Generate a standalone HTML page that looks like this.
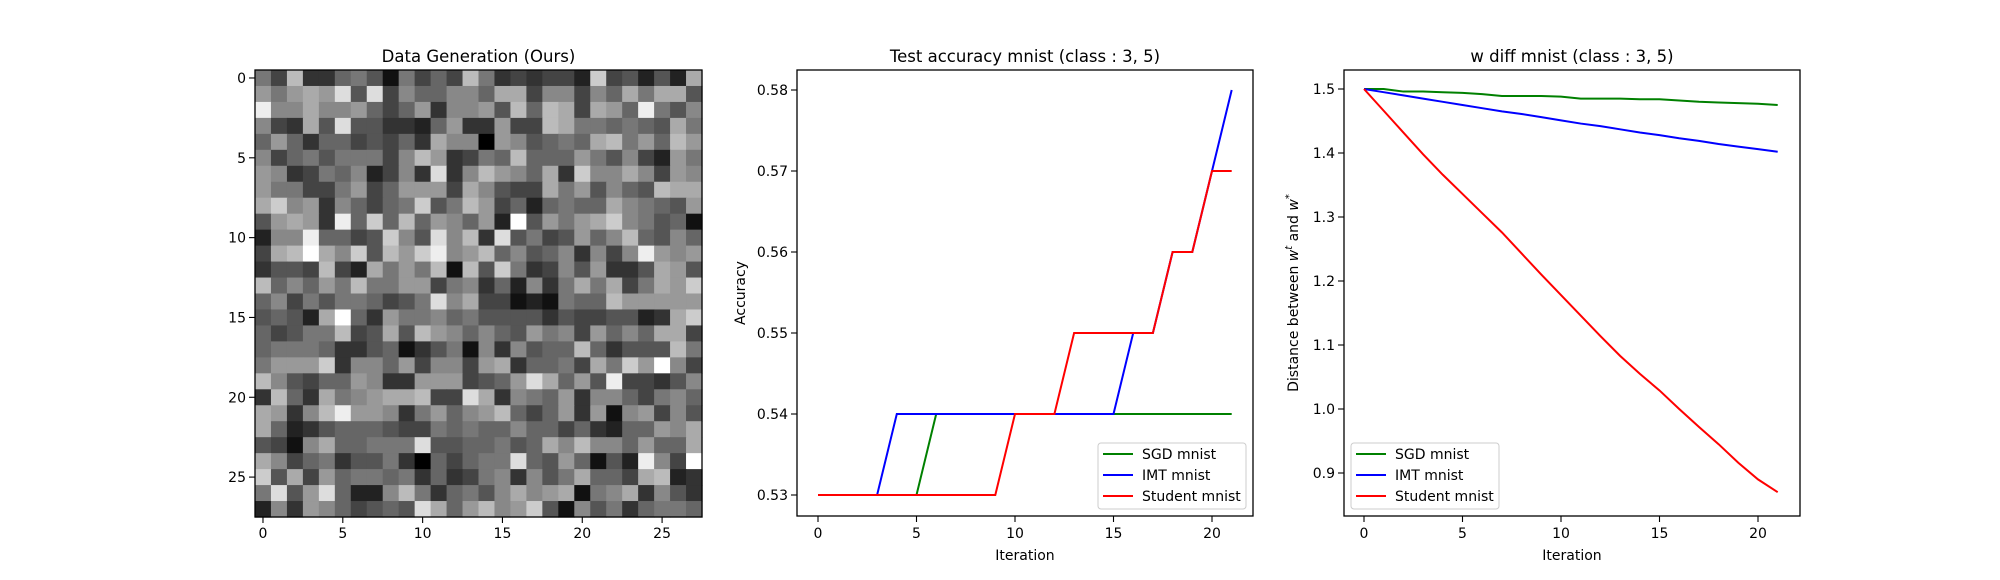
<!DOCTYPE html>
<html><head><meta charset="utf-8"><style>
html,body{margin:0;padding:0;background:#fff;}
svg{display:block;font-family:"DejaVu Sans","Liberation Sans",sans-serif;}
</style></head><body>
<svg id="fig" width="2000" height="580" viewBox="0 0 2000 580" xmlns="http://www.w3.org/2000/svg">
<g id="p1"></g>
<g id="p2"></g>
<g id="p3"></g>
</svg>
<script>
const heatRows = [
"74b3367517464b7343442c45252a6","979a9d5d486688 6aa4884 86a7aa5","e88a8896469388 95b6ba4a96e758","843a5d553326 933 944ba776765a7",
"6963 6645463a880985 676ab796b9","84675777 48b9347 6b666975842 97","983476824 83d38b986a3c88a849 8","9774479469994a854 4a7958 65baa",
"ac893864 67c57b94626766a87659","59a93e6c6b69869 2f597 9ac8756 1","2 88e66 45c85d8b3d574596 8b658 6","4abfa8c5b9ce89b68568384 8e989",
"3554b42a797b1b5c7348593 35a95","b6869 7b7799478 362837a7a47a9c","6847577645 7d8a441217 66b99999","5652af639778675555354455 23ac",
"6457 7b45a5b98686597849686aa4","67776 335613571838566b6355 5b75","799 9c3886948849a366 74a7c9f84","b854669833999456 9da695e4435 8",
"3b63a789aab44da387693886478 6","a938be998379689b6469391894 85","a6235666544767668664632669 8a","541 8a66777 d556675 6a8b886966a",
"a846735573064677d659615 2e84f","c5a496776736347838 57a664ab23","7d59d6228b736758a89a178a3853","2839864565da69b89c5185 736776"
];
const xTicks1 = [0,5,10,15,20,25];
const yTicks1 = [0,5,10,15,20,25];

const iters = [0,1,2,3,4,5,6,7,8,9,10,11,12,13,14,15,16,17,18,19,20,21];
const accSGD = [0.53,0.53,0.53,0.53,0.53,0.53,0.54,0.54,0.54,0.54,0.54,0.54,0.54,0.54,0.54,0.54,0.54,0.54,0.54,0.54,0.54,0.54];
const accIMT = [0.53,0.53,0.53,0.53,0.54,0.54,0.54,0.54,0.54,0.54,0.54,0.54,0.54,0.54,0.54,0.54,0.55,0.55,0.56,0.56,0.57,0.58];
const accStudent = [0.53,0.53,0.53,0.53,0.53,0.53,0.53,0.53,0.53,0.53,0.54,0.54,0.54,0.55,0.55,0.55,0.55,0.55,0.56,0.56,0.57,0.57];
const accYTicks = [0.53,0.54,0.55,0.56,0.57,0.58];
const xTicks = [0,5,10,15,20];

const wSGD = [1.5,1.5,1.496,1.496,1.495,1.494,1.492,1.489,1.489,1.489,1.488,1.485,1.485,1.485,1.484,1.484,1.482,1.480,1.479,1.478,1.477,1.475];
const wIMT = [1.5,1.495,1.490,1.485,1.480,1.475,1.470,1.465,1.461,1.456,1.451,1.446,1.442,1.437,1.432,1.428,1.423,1.419,1.414,1.410,1.406,1.402];
const wStudent = [1.5,1.466,1.432,1.398,1.366,1.336,1.306,1.276,1.243,1.21,1.178,1.146,1.114,1.083,1.055,1.029,1.0,0.972,0.945,0.916,0.89,0.87];
const wYTicks = [0.9,1.0,1.1,1.2,1.3,1.4,1.5];
const legendLabels = ["SGD mnist","IMT mnist","Student mnist"];
const seriesColors = ["#008000","#0000ff","#ff0000"];

const NS="http://www.w3.org/2000/svg";
function mk(parent,tag,attrs,text){const e=document.createElementNS(NS,tag);for(const k in attrs)e.setAttribute(k,attrs[k]);if(text!==undefined)e.textContent=text;parent.appendChild(e);return e;}

/* ---------- panel 1: heatmap ---------- */
const p1=document.getElementById('p1');
const hL=255,hT=70,hS=447,cs=hS/28;
const hx=v=>hL+(v+0.5)*cs, hy=v=>hT+(v+0.5)*cs;
heatRows.forEach((row,r)=>{
  const vals=row.replace(/ /g,'').padEnd(28,'8').slice(0,28);
  for(let c=0;c<28;c++){
    const g=parseInt(vals[c],16)*17;
    const cell=mk(p1,'rect',{x:hL+c*cs,y:hT+r*cs,width:cs+0.6,height:cs+0.6,fill:`rgb(${g},${g},${g})`});
    
    
  }
});
const f1=mk(p1,'rect',{x:hL,y:hT,width:hS,height:hS,fill:'none',stroke:'#000','stroke-width':1.3});


xTicks1.forEach(t=>{
  mk(p1,'line',{x1:hx(t),x2:hx(t),y1:hT+hS,y2:hT+hS+6,stroke:'#000','stroke-width':1.1});
  const l=mk(p1,'text',{x:hx(t),y:538,'font-size':14,'text-anchor':'middle'},String(t));
  
  
});
yTicks1.forEach(t=>{
  mk(p1,'line',{x1:hL-6,x2:hL,y1:hy(t),y2:hy(t),stroke:'#000','stroke-width':1.1});
  const l=mk(p1,'text',{x:hL-9,y:hy(t)+5,'font-size':14,'text-anchor':'end'},String(t));
  
  
});
const t1=mk(p1,'text',{x:hL+hS/2,y:62,'font-size':16.5,'text-anchor':'middle'},'Data Generation (Ours)');



/* ---------- line panels ---------- */
function linePanel(g,opt){
  const {L,R,T,B,x0px,x20px,yA,yApx,yB,yBpx,series,yTicks,fmt,title,ylabel,ylx,legX,idp}=opt;
  const sx=v=>x0px+v*(x20px-x0px)/20;
  const sy=v=>yApx+(v-yA)*(yBpx-yApx)/(yB-yA);
  series.forEach((s,i)=>{
    const d=iters.map((it,k)=>(k?'L':'M')+sx(it).toFixed(2)+','+sy(s[k]).toFixed(2)).join(' ');
    const p=mk(g,'path',{d:d,fill:'none',stroke:seriesColors[i],'stroke-width':2});
    
    
  });
  const fr=mk(g,'rect',{x:L,y:T,width:R-L,height:B-T,fill:'none',stroke:'#000','stroke-width':1.3});
  
  
  xTicks.forEach(t=>{
    mk(g,'line',{x1:sx(t),x2:sx(t),y1:B,y2:B+6,stroke:'#000','stroke-width':1.1});
    const l=mk(g,'text',{x:sx(t),y:538,'font-size':14,'text-anchor':'middle'},String(t));
    
    
  });
  yTicks.forEach(t=>{
    mk(g,'line',{x1:L-6,x2:L,y1:sy(t),y2:sy(t),stroke:'#000','stroke-width':1.1});
    const l=mk(g,'text',{x:L-9,y:sy(t)+5,'font-size':14,'text-anchor':'end'},fmt(t));
    
    
  });
  const tt=mk(g,'text',{x:(L+R)/2,y:62,'font-size':16.5,'text-anchor':'middle'},title);
  
  
  const xl=mk(g,'text',{x:(L+R)/2,y:560,'font-size':14,'text-anchor':'middle'},'Iteration');
  
  
  const yl=mk(g,'text',{x:0,y:0,'font-size':14,'text-anchor':'middle',transform:`translate(${ylx},${(T+B)/2}) rotate(-90)`});
  yl.innerHTML=ylabel;
  
  
  const lg=mk(g,'g',{});
  
  
  mk(lg,'rect',{x:legX,y:443,width:148,height:66,rx:3,fill:'#fff','fill-opacity':0.8,stroke:'#ccc','stroke-width':1});
  legendLabels.forEach((lab,i)=>{
    const e=mk(lg,'g',{});
    
    
    const y=454+i*21;
    mk(e,'line',{x1:legX+5,x2:legX+35,y1:y,y2:y,stroke:seriesColors[i],'stroke-width':2});
    mk(e,'text',{x:legX+44,y:y+5,'font-size':14},lab);
  });
}
linePanel(document.getElementById('p2'),{L:797,R:1253,T:70,B:516,x0px:818,x20px:1212,yA:0.53,yApx:495,yB:0.58,yBpx:90,
  series:[accSGD,accIMT,accStudent],yTicks:accYTicks,fmt:t=>t.toFixed(2),title:'Test accuracy mnist (class : 3, 5)',
  ylabel:'Accuracy',ylx:745,legX:1098,idp:'accuracy'});
linePanel(document.getElementById('p3'),{L:1344,R:1800,T:70,B:516,x0px:1364,x20px:1758,yA:1.5,yApx:89,yB:0.9,yBpx:473,
  series:[wSGD,wIMT,wStudent],yTicks:wYTicks,fmt:t=>t.toFixed(1),title:'w diff mnist (class : 3, 5)',
  ylabel:'Distance between <tspan font-style="italic">w</tspan><tspan font-style="italic" font-size="10" dy="-6">t</tspan><tspan dy="6"> and </tspan><tspan font-style="italic">w</tspan><tspan font-size="10" dy="-6">*</tspan>',
  ylx:1298,legX:1351,idp:'wdiff'});
</script>
</body></html>
